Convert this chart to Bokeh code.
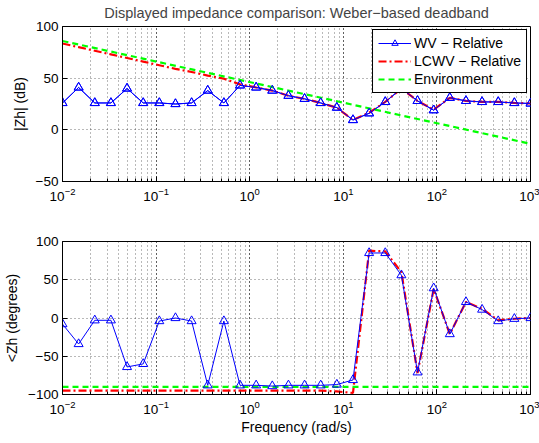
from bokeh.plotting import figure
from bokeh.models import Range1d, FixedTicker, CustomJSTickFormatter
from bokeh.layouts import column
from bokeh.embed import file_html
from bokeh.resources import INLINE

# ---- data ----
freq = [0.01, 0.014874, 0.022122, 0.032903, 0.048939, 0.07279, 0.10826, 0.16103,
        0.2395, 0.35622, 0.52983, 0.78805, 1.1721, 1.7433, 2.5929, 3.8566, 5.7362,
        8.5317, 12.690, 18.874, 28.072, 41.753, 62.102, 92.367, 137.38, 204.34,
        303.92, 452.04, 672.34, 1000.0]

wv_mag = [26, 41, 26, 26, 40, 26, 26, 25, 26, 38, 26, 43, 41, 38, 33, 30, 26,
          21.5, 9.5, 16, 27, 40, 28, 19, 31, 28, 27, 27, 26, 25.5]
lcwv_mag = [83.5, 80, 76.5, 73, 69.5, 66, 62.5, 59, 56, 52.5, 49.5, 44, 41, 38,
            33, 30, 26, 21.5, 9.5, 16.5, 27, 40, 28, 19.5, 31, 28, 27, 27, 26, 25.5]
env_freq = [0.01, 1000.0]
env_mag = [86, -13.5]

wv_ph = [-8, -34, -3, -3, -64, -60, -4, 0, -4, -88, -4, -88, -88, -89, -88, -88,
         -88, -87, -81, 85, 85, 56, -71, 39, -21, 21, 11, -4, -1, 0]
lcwv_ph = [-95, -95, -95, -95, -95, -95, -95, -95, -95, -95, -95, -95, -95, -95,
           -95, -95, -95, -96, -98, 88, 87, 60, -72, 38, -21, 21, 12, -3, -1, 0]
env_ph = [-90, -90]

mag_ticks = [-50, 0, 50, 100]
ph_ticks = [-100, -50, 0, 50, 100]

TITLE = "Displayed impedance comparison: Weber\u2212based deadband"
FONT = "Liberation Sans"


def style(p, yticks):
    p.outline_line_color = "black"
    p.outline_line_alpha = 1
    p.background_fill_color = "white"
    p.border_fill_color = "white"
    for ax in (p.xaxis[0], p.yaxis[0]):
        ax.axis_line_color = "black"
        ax.major_tick_in = 5
        ax.major_tick_out = 0
        ax.minor_tick_in = 3
        ax.minor_tick_out = 0
        ax.major_tick_line_color = "black"
        ax.minor_tick_line_color = "black"
        ax.major_label_text_font = FONT
        ax.major_label_text_font_size = "13.5px"
        ax.major_label_text_color = "black"
        ax.axis_label_text_font = FONT
        ax.axis_label_text_font_size = "14px"
        ax.axis_label_text_font_style = "normal"
        ax.axis_label_text_color = "black"
    p.yaxis[0].major_label_standoff = 4
    p.yaxis[0].axis_label_standoff = 5
    p.xaxis[0].major_label_standoff = 6
    p.xaxis[0].axis_label_standoff = 2
    p.yaxis[0].ticker = FixedTicker(ticks=yticks, minor_ticks=[])
    p.yaxis[0].formatter = CustomJSTickFormatter(
        code="return tick < 0 ? '\u2212' + Math.abs(tick) : String(tick);")
    for g in (p.xgrid[0], p.ygrid[0]):
        g.grid_line_color = "black"
        g.grid_line_alpha = 0.55
        g.grid_line_dash = "1 3"
    p.xgrid[0].minor_grid_line_color = "black"
    p.xgrid[0].minor_grid_line_alpha = 0.55
    p.xgrid[0].minor_grid_line_dash = "1 3"


# ---- top: magnitude ----
p1 = figure(width=539, height=215, x_axis_type="log",
            x_range=Range1d(0.01, 1000), y_range=Range1d(-50, 100),
            output_backend="svg", toolbar_location=None,
            min_border_left=62, min_border_right=9,
            min_border_top=26, min_border_bottom=34, title=TITLE)
p1.title.align = "center"
p1.title.vertical_align = "top"
p1.title.text_font = FONT
p1.title.text_font_size = "14.5px"
p1.title.text_font_style = "normal"
p1.title.standoff = 8
p1.title.offset = 0
style(p1, mag_ticks)
p1.yaxis.axis_label = "|Zh| (dB)"

p1.line(freq, wv_mag, line_color="#0000ff", line_width=1, legend_label="WV \u2212 Relative")
p1.scatter(freq, wv_mag, marker="triangle", size=9, line_color="#0000ff",
           fill_color=None, line_width=1, legend_label="WV \u2212 Relative")
p1.line(freq, lcwv_mag, line_color="#ff0000", line_width=2.2, line_dash="8 3 2 3",
        legend_label="LCWV \u2212 Relative")
p1.line(env_freq, env_mag, line_color="#00ff00", line_width=2.2, line_dash="6 4",
        legend_label="Environment")
# redraw WV on top
p1.line(freq, wv_mag, line_color="#0000ff", line_width=1)
p1.scatter(freq, wv_mag, marker="triangle", size=9, line_color="#0000ff",
           fill_color=None, line_width=1)

lg = p1.legend[0]
lg.location = "top_right"
lg.margin = 3
lg.padding = 5
lg.spacing = 2
lg.glyph_width = 33
lg.glyph_height = 16
lg.label_height = 16
lg.label_standoff = 3
lg.label_text_font = FONT
lg.label_text_font_size = "14px"
lg.label_text_color = "black"
lg.border_line_color = "black"
lg.border_line_width = 1
lg.border_line_alpha = 1
lg.background_fill_alpha = 1

# ---- bottom: phase ----
p2 = figure(width=539, height=228, x_axis_type="log",
            x_range=Range1d(0.01, 1000), y_range=Range1d(-100, 100),
            output_backend="svg", toolbar_location=None,
            min_border_left=62, min_border_right=9,
            min_border_top=26, min_border_bottom=49)
style(p2, ph_ticks)
p2.yaxis.axis_label = "<Zh (degrees)"
p2.xaxis.axis_label = "Frequency (rad/s)"

p2.line(freq, lcwv_ph, line_color="#ff0000", line_width=2.2, line_dash="8 3 2 3")
p2.line(env_freq, env_ph, line_color="#00ff00", line_width=2.2, line_dash="6 4")
p2.line(freq, wv_ph, line_color="#0000ff", line_width=1)
p2.scatter(freq, wv_ph, marker="triangle", size=9, line_color="#0000ff",
           fill_color=None, line_width=1)

layout = column(p1, p2)
open("out.html", "w", encoding="utf-8").write(file_html(layout, INLINE))
